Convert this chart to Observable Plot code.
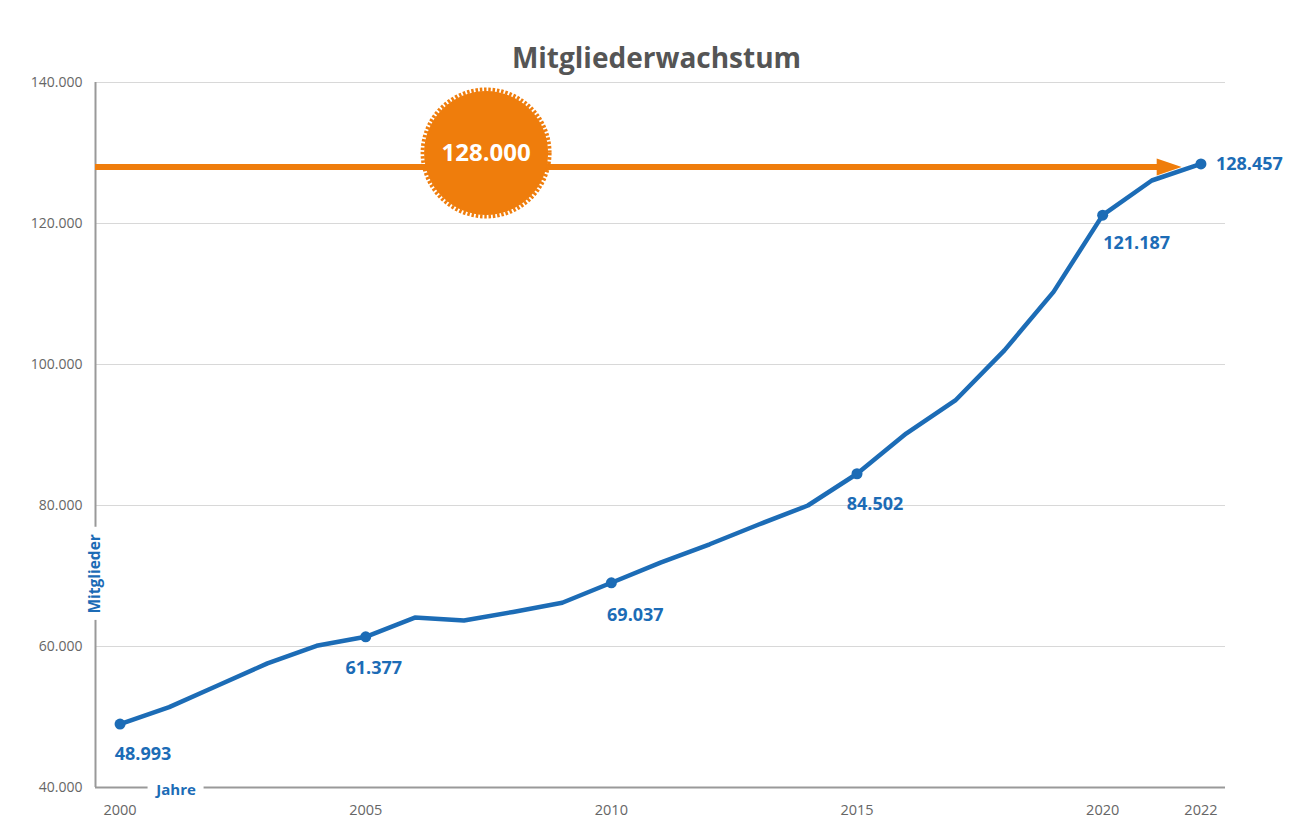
<!DOCTYPE html>
<html>
<head>
<meta charset="utf-8">
<script src="https://cdn.jsdelivr.net/npm/d3@7"></script>
<script src="https://cdn.jsdelivr.net/npm/@observablehq/plot@0.6"></script>
<style>
  html, body { margin: 0; padding: 0; background: #fff; }
  #chart { width: 1295px; height: 832px; }
</style>
</head>
<body>
<div id="chart"></div>
<script>
// ---- data ----
const years = [2000, 2001, 2002, 2003, 2004, 2005, 2006, 2007, 2008, 2009, 2010, 2011,
               2012, 2013, 2014, 2015, 2016, 2017, 2018, 2019, 2020, 2021, 2022];
const members = [48993, 51400, 54500, 57600, 60100, 61377, 64100, 63700, 64900, 66200, 69037, 71900,
                 74500, 77300, 80000, 84502, 90200, 94900, 102000, 110300, 121187, 126100, 128457];
const labeledYears = [2000, 2005, 2010, 2015, 2020, 2022];
const xTicks = [2000, 2005, 2010, 2015, 2020, 2022];
const yTicks = [40000, 60000, 80000, 100000, 120000, 140000];
const target = 128000;
const title = "Mitgliederwachstum";
const yLabel = "Mitglieder";
const xLabel = "Jahre";

const BLUE = "#1c6cb6";
const ORANGE = "#ef7d0c";
const de = d3.formatLocale({decimal: ",", thousands: ".", grouping: [3], currency: ["", "€"]});
const fmt = de.format(",d");

const data = years.map((y, i) => ({year: y, value: members[i]}));
const pts = data.filter(d => labeledYears.includes(d.year));
const lab = yr => pts.filter(d => d.year === yr);

const X0 = 1999.5, X1 = 2022.5;
const labelFont = {fontSize: 18, fontWeight: 700, fill: BLUE};

const chart = Plot.plot({
  width: 1295,
  height: 832,
  marginLeft: 95,
  marginRight: 70,
  marginTop: 82,
  marginBottom: 45,
  style: {fontFamily: "'Open Sans', sans-serif", background: "#fff"},
  x: {domain: [X0, X1], axis: null},
  y: {domain: [40000, 140000], axis: null},
  marks: [
    Plot.gridY(yTicks.filter(t => t > 40000), {stroke: "#d8d8d8", strokeOpacity: 1, strokeWidth: 1}),
    // x-axis line with gap for "Jahre"
    Plot.ruleY([40000], {x1: X0, x2: 2000.57, stroke: "#999", strokeWidth: 2}),
    Plot.ruleY([40000], {x1: 2001.71, x2: X1, stroke: "#999", strokeWidth: 2}),
    // y-axis line with gap for "Mitglieder"
    Plot.ruleX([X0], {y1: 40000, y2: 63700, stroke: "#999", strokeWidth: 2}),
    Plot.ruleX([X0], {y1: 76900, y2: 140000, stroke: "#999", strokeWidth: 2}),
    Plot.axisX({ticks: xTicks, tickSize: 0, tickPadding: 17, tickFormat: d => String(d),
                fontSize: 14.5, color: "#666", label: null}),
    Plot.axisY({ticks: yTicks, tickSize: 0, tickPadding: 13, tickFormat: fmt,
                fontSize: 14, color: "#666", label: null}),
    Plot.text([yLabel], {x: X0, y: 70300, rotate: -90, fontSize: 15.5, fontWeight: 700, fill: BLUE}),
    Plot.text([xLabel], {x: 2001.14, y: 40000, dy: 3, fontSize: 15, fontWeight: 700, fill: BLUE}),
    // target arrow
    Plot.ruleY([target], {x1: X0, x2: 2021.15, stroke: ORANGE, strokeWidth: 6}),
    Plot.vector([{x: 2021.1, y: target}], {x: "x", y: "y", length: 25, rotate: 90, shape: "spike",
                r: 8.5, anchor: "start", fill: ORANGE, stroke: "none"}),
    // badge
    Plot.dot([{x: 2007.45, y: 130000}], {x: "x", y: "y", r: 62, fill: ORANGE, stroke: "none"}),
    Plot.dot([{x: 2007.45, y: 130000}], {x: "x", y: "y", r: 63.5, fill: "none", stroke: ORANGE,
                strokeWidth: 4, strokeDasharray: "2.5 1.8"}),
    Plot.text([fmt(target)], {x: 2007.45, y: 130000, fill: "#fff", fontSize: 24, fontWeight: 700}),
    // series
    Plot.line(data, {x: "year", y: "value", stroke: BLUE, strokeWidth: 4.5, curve: "linear",
                strokeLinejoin: "round"}),
    Plot.dot(pts, {x: "year", y: "value", r: 5.5, fill: BLUE}),
    Plot.text(lab(2000), {x: "year", y: "value", text: d => fmt(d.value), dx: 23, dy: 30, ...labelFont}),
    Plot.text(lab(2005), {x: "year", y: "value", text: d => fmt(d.value), dx: 8, dy: 31, ...labelFont}),
    Plot.text(lab(2010), {x: "year", y: "value", text: d => fmt(d.value), dx: 24, dy: 32, ...labelFont}),
    Plot.text(lab(2015), {x: "year", y: "value", text: d => fmt(d.value), dx: 18, dy: 30, ...labelFont}),
    Plot.text(lab(2020), {x: "year", y: "value", text: d => fmt(d.value), dx: 34, dy: 28, ...labelFont}),
    Plot.text(lab(2022), {x: "year", y: "value", text: d => fmt(d.value), dx: 15, textAnchor: "start", ...labelFont}),
    // title
    Plot.text([title], {frameAnchor: "top", dy: -34, dx: -4, fontSize: 28, fontWeight: 700, fill: "#555"})
  ]
});
document.getElementById("chart").appendChild(chart);
</script>
</body>
</html>
